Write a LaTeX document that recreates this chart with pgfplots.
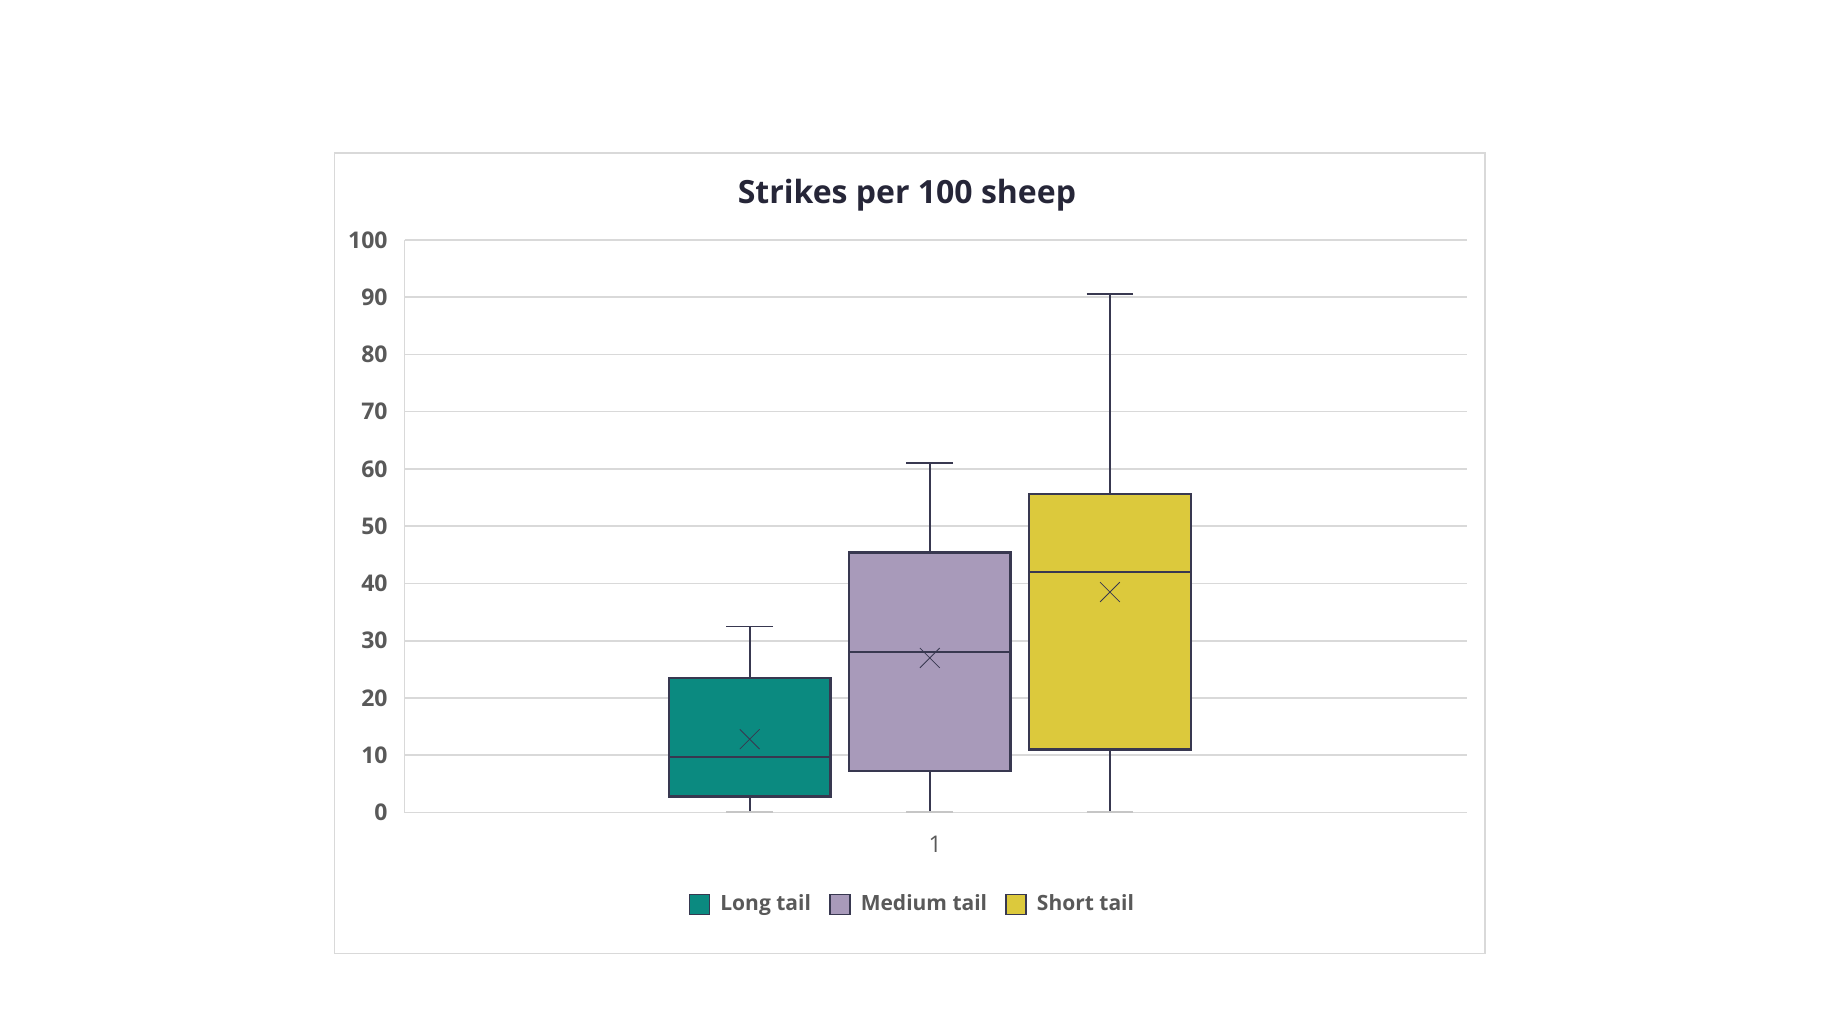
\documentclass[border=0pt]{standalone}
\usepackage{fontspec}
\setmainfont{Open Sans}
\usepackage{pgfplots}
\pgfplotsset{compat=1.18}
\usepgfplotslibrary{statistics}

\definecolor{longtail}{HTML}{0B8A80}
\definecolor{medtail}{HTML}{A89ABA}
\definecolor{shorttail}{HTML}{DCC93C}
\definecolor{boxedge}{HTML}{383850}
\definecolor{gridgray}{HTML}{D9D9D9}
\definecolor{capgray}{HTML}{C6C6C6}
\definecolor{ticktext}{HTML}{595959}
\definecolor{titletext}{HTML}{262638}

\begin{document}
\begin{tikzpicture}
\useasboundingbox (-202.3pt,-105.75pt) rectangle (708.2pt,406.25pt);
% chart border
\draw[gridgray, line width=0.7pt] (-35pt,-70.5pt) rectangle (540.2pt,329.75pt);

\begin{axis}[
  at={(0pt,0pt)}, anchor=south west,
  scale only axis, width=531pt, height=286.3pt,
  xmin=-0.916, xmax=4.98, ymin=0, ymax=100,
  ytick={0,10,...,100},
  xtick={2.03}, xticklabels={1},
  ymajorgrids, grid style={gridgray, line width=0.8pt},
  axis x line*=bottom, axis y line*=left,
  axis line style={gridgray, line width=0.8pt, -},
  major tick length=0pt,
  /pgf/number format/assume math mode=true,
  xticklabel style={font=\fontsize{11.5}{13}\selectfont, text=ticktext, yshift=-8.5pt},
  yticklabel style={font=\fontsize{11.5}{13}\selectfont\bfseries, text=ticktext, xshift=-5pt},
  title={Strikes per 100 sheep},
  title style={font=\fontsize{16}{19}\selectfont\bfseries, text=titletext,
    at={(0.473,1)}, anchor=center, yshift=16.5pt},
  legend columns=3,
  legend style={at={(0.479,0)}, anchor=center, yshift=-46pt, draw=none,
    font=\fontsize{10.5}{13}\selectfont\bfseries, text=ticktext,
    /tikz/every odd column/.append style={column sep=3pt},
    /tikz/every even column/.append style={column sep=7pt}},
  boxplot/draw direction=y,
  boxplot/every box/.style={draw=boxedge, line width=1.2pt},
  boxplot/every whisker/.style={draw=boxedge, line width=0.8pt},
  boxplot/every median/.style={draw=boxedge, line width=1.1pt},
  boxplot/every average/.style={/tikz/mark=x, /tikz/mark size=7pt,
    /tikz/mark options={draw=boxedge, line width=0.8pt}},
  boxplot/draw/lower whisker/.code={
    \draw[/pgfplots/boxplot/every whisker/.try]
      (boxplot box cs:\pgfplotsboxplotvalue{lower whisker},0.5) --
      (boxplot box cs:\pgfplotsboxplotvalue{lower quartile},0.5);
    \draw[capgray, line width=1.8pt]
      (boxplot whisker cs:\pgfplotsboxplotvalue{lower whisker},0) --
      (boxplot whisker cs:\pgfplotsboxplotvalue{lower whisker},1);
  },
]
\addlegendimage{legend image code/.code={\draw[fill=longtail, draw=boxedge, line width=0.9pt] (0pt,-5pt) rectangle (10pt,5pt);}}
\addlegendimage{legend image code/.code={\draw[fill=medtail, draw=boxedge, line width=0.9pt] (0pt,-5pt) rectangle (10pt,5pt);}}
\addlegendimage{legend image code/.code={\draw[fill=shorttail, draw=boxedge, line width=0.9pt] (0pt,-5pt) rectangle (10pt,5pt);}}

% Long tail
\addplot[forget plot, fill=longtail, draw=boxedge, boxplot/draw direction=y, boxplot prepared={
  lower whisker=0, lower quartile=2.8, median=9.7,
  upper quartile=23.5, upper whisker=32.5, average=12.8,
  draw position=1, box extend=0.897, whisker extend=0.26}]
  coordinates {};
% Medium tail
\addplot[forget plot, fill=medtail, draw=boxedge, boxplot/draw direction=y, boxplot prepared={
  lower whisker=0, lower quartile=7.3, median=28.0,
  upper quartile=45.4, upper whisker=61.0, average=27.0,
  draw position=2, box extend=0.897, whisker extend=0.26}]
  coordinates {};
% Short tail
\addplot[forget plot, fill=shorttail, draw=boxedge, boxplot/draw direction=y, boxplot prepared={
  lower whisker=0, lower quartile=11.0, median=42.0,
  upper quartile=55.6, upper whisker=90.5, average=38.5,
  draw position=3, box extend=0.897, whisker extend=0.26}]
  coordinates {};

\legend{Long tail, Medium tail, Short tail}
\end{axis}
\end{tikzpicture}
\end{document}
